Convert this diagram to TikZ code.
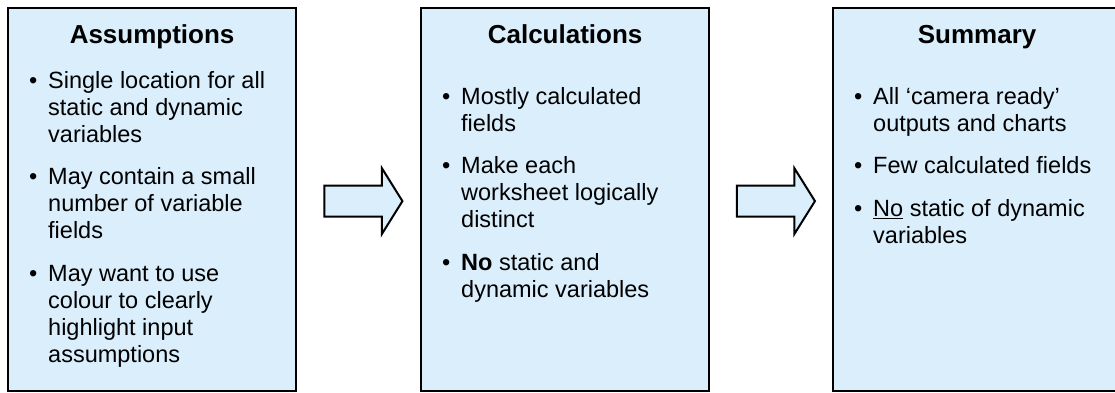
\documentclass[tikz,border=0pt]{standalone}
\usepackage{fontspec}
\setmainfont{Liberation Sans}
\usepackage{tikz}
\usetikzlibrary{
  positioning,
  calc,
  shapes.arrows
}
\definecolor{paleblue}{RGB}{218,238,252}
\newcommand{\bul}{\textbullet}

\begin{document}
\begin{tikzpicture}[x=1pt, y=-1pt,
    stage/.style={draw=black, line width=2.2pt, fill=paleblue, anchor=north west,
                  minimum width=288pt, minimum height=383pt, inner sep=0pt},
    ttl/.style={anchor=base, font=\fontsize{26}{30}\selectfont\bfseries},
    pts/.style={anchor=north west, inner sep=0pt, align=left,
                font=\fontsize{23.5}{27}\selectfont},
    flow/.style={single arrow, draw=black, line width=2pt, fill=paleblue,
                 minimum height=78pt, minimum width=0pt, inner sep=14.5pt,
                 single arrow head extend=17.5pt, single arrow tip angle=116,
                 single arrow head indent=0pt}
  ]
    \useasboundingbox (0,0) rectangle (1115,392);
    \node[stage] (assum) at (7,7) {};
    \node[stage] (calcs) at (420,7) {};
    \node[stage] (summ)  at (832,7) {};

    \node[ttl] (assumT) at ($(assum.north)+(0,36)$) {Assumptions};
    \node[ttl] (calcsT) at ($(calcs.north)+(0,36)$) {Calculations};
    \node[ttl] (summT)  at ($(summ.north)+(0,36)$)  {Summary};

    \node[pts] (assumL) at ($(assum.north west)+(22,62)$) {%
      \begin{tabular}{@{}p{19pt}@{}l@{}}
        \bul & Single location for all\\
             & static and dynamic\\
             & variables\\[15.5pt]
        \bul & May contain a small\\
             & number of variable\\
             & fields\\[15.5pt]
        \bul & May want to use\\
             & colour to clearly\\
             & highlight input\\
             & assumptions
      \end{tabular}};
    \node[pts] (calcsL) at ($(calcs.north west)+(22,78)$) {%
      \begin{tabular}{@{}p{19pt}@{}l@{}}
        \bul & Mostly calculated\\
             & fields\\[15.5pt]
        \bul & Make each\\
             & worksheet logically\\
             & distinct\\[15.5pt]
        \bul & \textbf{No} static and\\
             & dynamic variables
      \end{tabular}};
    \node[pts] (summL) at ($(summ.north west)+(22,78)$) {%
      \begin{tabular}{@{}p{19pt}@{}l@{}}
        \bul & All ‘camera ready’\\
             & outputs and charts\\[15.5pt]
        \bul & Few calculated fields\\[15.5pt]
        \bul & \underline{No} static of dynamic\\
             & variables
      \end{tabular}};

    \node[flow] (a1) at ($(assum.east)!0.5!(calcs.west)+(0,1.5)$) {};
    \node[flow] (a2) at ($(calcs.east)!0.5!(summ.west)+(0,1.5)$) {};
\end{tikzpicture}
\end{document}
